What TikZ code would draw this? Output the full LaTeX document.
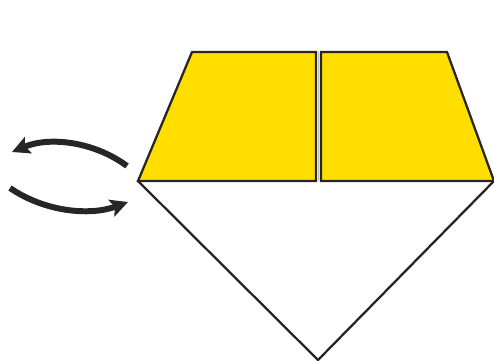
\documentclass[tikz,border=0pt]{standalone}
\usetikzlibrary{arrows.meta}
\definecolor{flapyellow}{RGB}{255,222,0}
\tikzset{
  edge/.style={draw=black!85,line width=1.3pt,line join=miter},
  turn/.style={line width=3.4pt,draw=black!85,-{Stealth[length=10pt,width=10pt,inset=2pt]}}
}
\begin{document}
\begin{tikzpicture}[x=0.02cm,y=-0.02cm]
  \useasboundingbox (0,0) rectangle (494,360);
  % lower triangle
  \draw[edge] (138,181) -- (318,360) -- (494,181);
  % two yellow flaps
  \filldraw[edge,fill=flapyellow] (192,52) -- (316,52) -- (316,181) -- (138,181) -- cycle;
  \filldraw[edge,fill=flapyellow] (321,52) -- (447,52) -- (494,181) -- (321,181) -- cycle;
  \draw[black!25,line width=0.4pt] (318.5,52) -- (318.5,181);
  % turn over arrows
  \coordinate (upstart) at (127,166);
  \coordinate (upend) at (12,152);
  \coordinate (lowstart) at (10,188);
  \coordinate (lowend) at (128,202);
  \draw[turn] (upstart) .. controls (95,142) and (50,136) .. (upend);
  \draw[turn] (lowstart) .. controls (45,212) and (90,216) .. (lowend);
\end{tikzpicture}
\end{document}
